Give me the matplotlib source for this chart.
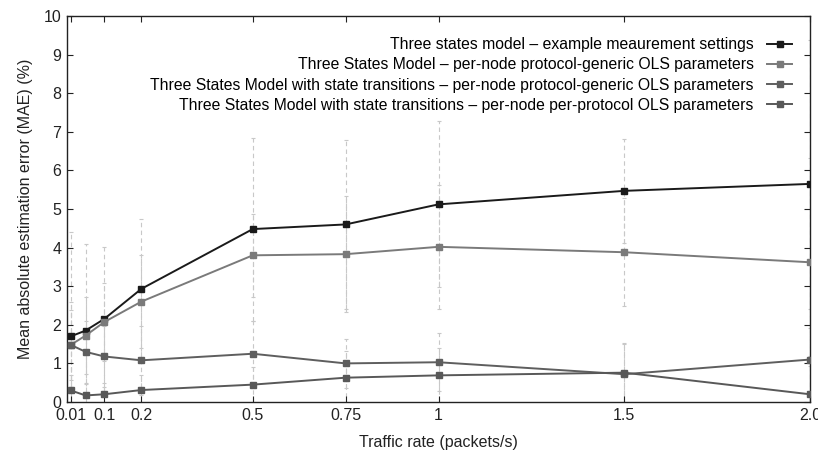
import numpy as np
import matplotlib.pyplot as plt

plt.rcParams['font.family'] = ['Liberation Sans', 'DejaVu Sans']

# traffic rates (packets/s)
rates = [0.01, 0.05, 0.1, 0.2, 0.5, 0.75, 1.0, 1.5, 2.0]
tick_vals = [0.01, 0.1, 0.2, 0.5, 0.75, 1.0, 1.5, 2.0]
tick_labels = ["0.01", "0.1", "0.2", "0.5", "0.75", "1", "1.5", "2.0"]

labels = [
    "Three states model \u2013 example meaurement settings",
    "Three States Model \u2013 per-node protocol-generic OLS parameters",
    "Three States Model with state transitions \u2013 per-node protocol-generic OLS parameters",
    "Three States Model with state transitions \u2013 per-node per-protocol OLS parameters",
]

# mean absolute estimation error (%)
mae_example = [1.70, 1.85, 2.15, 2.93, 4.48, 4.60, 5.12, 5.47, 5.65]
mae_generic = [1.48, 1.72, 2.07, 2.60, 3.80, 3.83, 4.02, 3.88, 3.62]
mae_trans_generic = [1.48, 1.30, 1.18, 1.08, 1.25, 1.00, 1.03, 0.72, 1.10]
mae_trans_proto = [0.30, 0.17, 0.20, 0.31, 0.45, 0.63, 0.69, 0.76, 0.20]

# standard deviations (error bars)
std_example = [2.70, 2.25, 1.87, 1.82, 2.37, 2.20, 2.15, 1.35, 3.73]
std_generic = [1.10, 1.00, 1.00, 1.20, 1.08, 1.50, 1.60, 1.40, 2.70]
std_trans_generic = [0.90, 0.80, 0.80, 0.90, 0.85, 0.63, 0.75, 0.80, 1.30]
std_trans_proto = [0.40, 0.30, 0.30, 0.40, 0.45, 0.70, 0.70, 0.75, 1.00]

series = [mae_example, mae_generic, mae_trans_generic, mae_trans_proto]
errors = [std_example, std_generic, std_trans_generic, std_trans_proto]
colors = ["#1a1a1a", "#7a7a7a", "#5e5e5e", "#585858"]

fig = plt.figure(figsize=(8.18, 4.5), dpi=100)
ax = fig.add_axes([67 / 818, 1 - 402 / 450, 743 / 818, 386 / 450])

for vals, err, col, lab in zip(series, errors, colors, labels):
    eb = ax.errorbar(rates, vals, yerr=err, fmt="none", ecolor="#c8c8c8",
                     elinewidth=0.8, capsize=1.5, capthick=0.8, zorder=1)
    eb[2][0].set_linestyle((0, (4, 3)))
    ax.plot(rates, vals, "-s", color=col, lw=1.4, ms=4.5, label=lab, zorder=3)

ax.set_xlim(0, 2.0)
ax.set_ylim(0, 10)
ax.set_xticks(tick_vals)
ax.set_xticklabels(tick_labels)
ax.set_yticks(range(0, 11))
ax.tick_params(direction="in", top=True, right=True, length=4, width=0.8,
               labelsize=11.5, colors="#222222", pad=4)
for s in ax.spines.values():
    s.set_linewidth(1.0)
    s.set_color("#222222")

ax.set_xlabel("Traffic rate (packets/s)", fontsize=11.5, color="#222222", labelpad=9)
ax.set_ylabel("Mean absolute estimation error (MAE) (%)", fontsize=11.5,
              color="#222222", labelpad=8)

ax.legend(loc="upper right", bbox_to_anchor=(0.976, 0.945), frameon=False,
          markerfirst=False, fontsize=11.3, borderpad=0, borderaxespad=0,
          handlelength=1.6, handletextpad=0.85, labelspacing=0.33)

fig.savefig("out.png", dpi=100)
